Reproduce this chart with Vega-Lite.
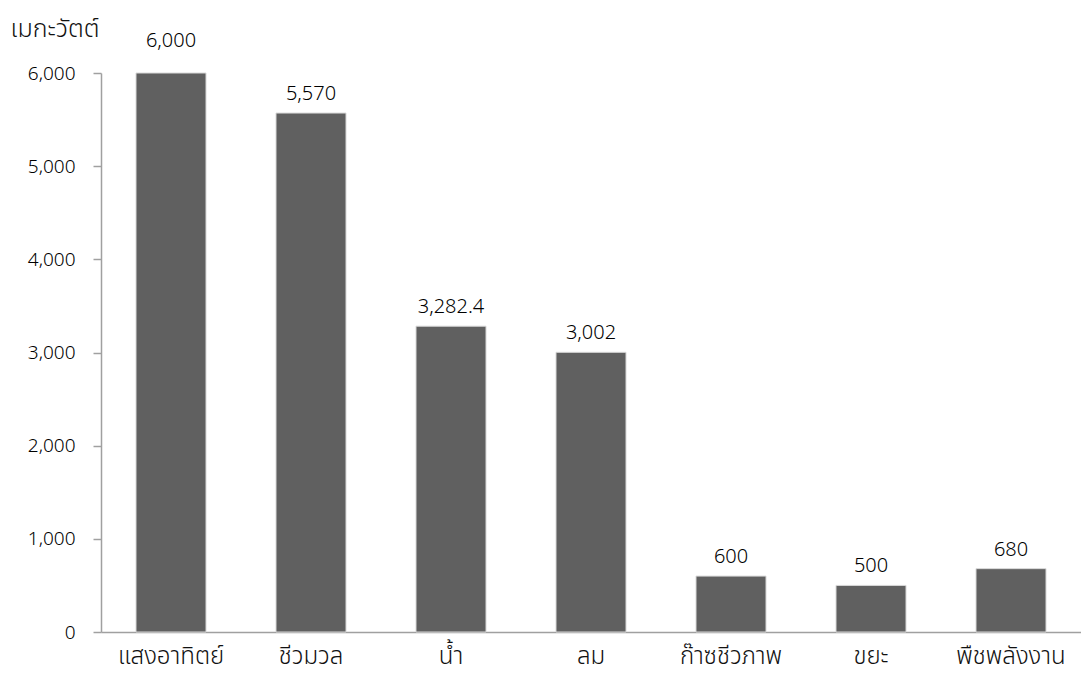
{
  "$schema": "https://vega.github.io/schema/vega-lite/v6.json",
  "autosize": "none",
  "width": 980,
  "height": 559,
  "padding": {"left": 101, "top": 73, "right": 0, "bottom": 59},
  "background": "white",
  "config": {"view": {"stroke": null}, "font": "Noto Sans"},
  "data": {"values": [
    {"source": "แสงอาทิตย์", "mw": 6000},
    {"source": "ชีวมวล", "mw": 5570},
    {"source": "น้ำ", "mw": 3282.4},
    {"source": "ลม", "mw": 3002},
    {"source": "ก๊าซชีวภาพ", "mw": 600},
    {"source": "ขยะ", "mw": 500},
    {"source": "พืชพลังงาน", "mw": 680}
  ]},
  "encoding": {
    "x": {"field": "source", "type": "nominal", "sort": null,
      "scale": {"paddingInner": 0.5, "paddingOuter": 0.25},
      "axis": {"title": null, "labelAngle": 0, "ticks": false, "domainColor": "#a0a0a0", "domainWidth": 1.5,
        "labelFont": "Noto Sans Thai, Noto Sans Thai Looped, Loma, Garuda, Noto Sans",
        "labelFontSize": 24, "labelFontWeight": 300, "labelColor": "#111111", "labelPadding": 12}},
    "y": {"field": "mw", "type": "quantitative",
      "scale": {"domain": [0, 6000], "nice": false},
      "axis": {"values": [0, 1000, 2000, 3000, 4000, 5000, 6000], "format": ",.0f", "grid": false,
        "domainColor": "#a0a0a0", "domainWidth": 1.5, "tickColor": "#a0a0a0", "tickSize": 8, "tickWidth": 1.5,
        "labelFontSize": 19, "labelFontWeight": 300, "labelColor": "#000000", "labelPadding": 18,
        "title": "เมกะวัตต์", "titleAngle": 0, "titleAlign": "left", "titleBaseline": "middle",
        "titleFont": "Noto Sans Thai, Noto Sans Thai Looped, Loma, Garuda, Noto Sans",
        "titleX": -91, "titleY": -45, "titleFontSize": 25, "titleFontWeight": 300, "titleColor": "#111111"}}
  },
  "layer": [
    {"mark": {"type": "bar", "color": "#606060", "stroke": "#d8d8d8", "strokeWidth": 1}},
    {"transform": [{"filter": "datum.mw < 6000"}],
      "mark": {"type": "text", "dy": -13, "fontSize": 20, "fontWeight": 300, "color": "#000000", "baseline": "alphabetic"},
      "encoding": {"text": {"field": "mw", "type": "quantitative", "format": ",.1~f"}}},
    {"transform": [{"filter": "datum.mw >= 6000"}],
      "mark": {"type": "text", "dy": -26, "fontSize": 20, "fontWeight": 300, "color": "#000000", "baseline": "alphabetic"},
      "encoding": {"text": {"field": "mw", "type": "quantitative", "format": ",.1~f"}}}
  ]
}
